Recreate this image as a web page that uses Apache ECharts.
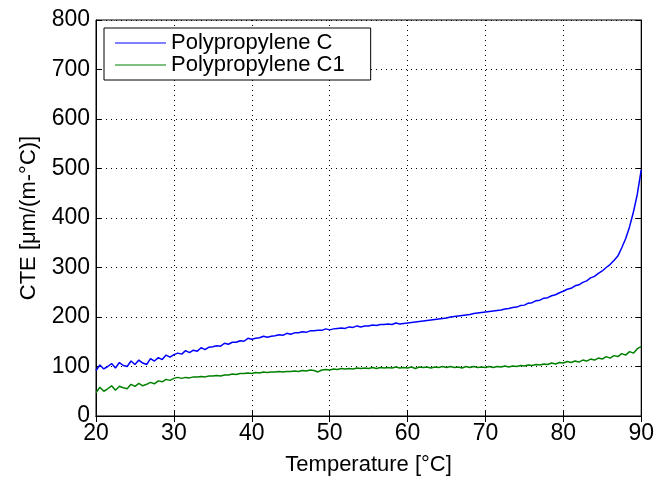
<!DOCTYPE html>
<html>
<head>
<meta charset="utf-8">
<script src="https://cdn.jsdelivr.net/npm/echarts@6/dist/echarts.min.js"></script>
<style>
    html, body { margin: 0; padding: 0; background: #fff; }
    #chart { width: 657px; height: 485px; }
</style>
</head>
<body>
<div id="chart"></div>
<script>
// 温度采样点 (°C)
const temps = [
    20, 20.5, 21, 21.5, 22, 22.5, 23, 23.5, 24, 24.5, 25, 25.5, 26, 26.5, 27, 27.5, 28, 28.5, 29, 29.5,
    30, 30.5, 31, 31.5, 32, 32.5, 33, 33.5, 34, 34.5, 35, 35.5, 36, 36.5, 37, 37.5, 38, 38.5, 39, 39.5,
    40, 40.5, 41, 41.5, 42, 42.5, 43, 43.5, 44, 44.5, 45, 45.5, 46, 46.5, 47, 47.5, 48, 48.5, 49, 49.5,
    50, 50.5, 51, 51.5, 52, 52.5, 53, 53.5, 54, 54.5, 55, 55.5, 56, 56.5, 57, 57.5, 58, 58.5, 59, 59.5,
    60, 60.5, 61, 61.5, 62, 62.5, 63, 63.5, 64, 64.5, 65, 65.5, 66, 66.5, 67, 67.5, 68, 68.5, 69, 69.5,
    70, 70.5, 71, 71.5, 72, 72.5, 73, 73.5, 74, 74.5, 75, 75.5, 76, 76.5, 77, 77.5, 78, 78.5, 79, 79.5,
    80, 80.5, 81, 81.5, 82, 82.5, 83, 83.5, 84, 84.5, 85, 85.5, 86, 86.5, 87, 87.5, 88, 88.5, 89, 89.5,
    90
]
// Polypropylene C
const cteC = [
    92, 103, 95, 100, 106, 97, 108, 102, 100, 111, 104, 113, 107, 104, 116, 111, 118, 114, 123, 119,
    124, 127, 125, 132, 128, 133, 131, 138, 134, 139, 140, 142, 141, 147, 145, 149, 149, 152, 151, 157,
    155, 157, 158, 161, 159, 161, 162, 164, 163, 167, 165, 168, 168, 170, 169, 172, 172, 173, 173, 176,
    174, 176, 177, 178, 177, 180, 179, 182, 180, 182, 182, 184, 183, 185, 185, 186, 185, 188, 186, 187,
    188, 189, 190, 191, 192, 193, 194, 195, 196, 197, 198, 200, 201, 202, 203, 204, 205, 207, 208, 209,
    210, 211, 212, 213, 214, 216, 217, 219, 220, 223, 224, 228, 229, 233, 234, 238, 239, 243, 245, 249,
    252, 256, 258, 263, 265, 270, 273, 279, 282, 288, 293, 300, 306, 314, 323, 340, 358, 382, 412, 448,
    497
]
// Polypropylene C1
const cteC1 = [
    47, 58, 50, 55, 61, 52, 60, 57, 55, 64, 60, 66, 61, 64, 68, 65, 71, 69, 74, 72,
    76, 78, 76, 78, 77, 79, 79, 80, 79, 81, 81, 82, 81, 83, 83, 85, 84, 86, 86, 87,
    86, 88, 87, 89, 88, 89, 89, 90, 89, 90, 90, 91, 90, 92, 91, 93, 92, 89, 93, 94,
    93, 95, 94, 96, 95, 96, 95, 97, 96, 97, 96, 98, 96, 98, 97, 98, 97, 99, 97, 98,
    97, 99, 96, 99, 98, 99, 97, 99, 98, 100, 98, 100, 98, 99, 97, 100, 98, 100, 98, 99,
    98, 100, 98, 100, 99, 101, 99, 101, 100, 102, 101, 103, 102, 104, 103, 105, 104, 107, 105, 108,
    107, 110, 108, 111, 109, 113, 111, 115, 113, 117, 115, 120, 117, 122, 120, 126, 123, 130, 127, 136,
    140
]

function pairs(xs, ys) {
    return xs.map((x, i) => [x, ys[i]])
}

(function () {
    let chart = echarts.init(document.getElementById('chart'))
    const font = 'Liberation Sans, Arial, sans-serif'
    const dotted = { color: '#000', width: 1, type: [1, 4] }
    let option = {
        animation: false,
        backgroundColor: '#fff',
        grid: {
            left: 96,
            right: 14,
            top: 20,
            bottom: 69,
            show: true,
            borderColor: '#000',
            borderWidth: 1
        },
        legend: {
            orient: 'vertical',
            left: 104,
            top: 28,
            padding: [4, 26, 4, 11],
            itemGap: 0,
            itemWidth: 51,
            itemHeight: 1,
            icon: 'rect',
            borderColor: '#000',
            borderWidth: 1,
            backgroundColor: '#fff',
            textStyle: { fontFamily: font, fontSize: 22, color: '#000', lineHeight: 22 },
            data: ['Polypropylene C', 'Polypropylene C1']
        },
        xAxis: [
            {
                type: 'value',
                min: 20,
                max: 90,
                interval: 10,
                name: 'Temperature [°C]',
                nameLocation: 'middle',
                nameGap: 38,
                nameTextStyle: { fontFamily: font, fontSize: 22, color: '#000' },
                axisLine: { lineStyle: { color: '#000' } },
                axisTick: { inside: true, length: 6, lineStyle: { color: '#000' } },
                axisLabel: { fontFamily: font, fontSize: 23, color: '#000', margin: 6 },
                splitLine: { show: true, lineStyle: dotted }
            },
            {
                type: 'value',
                position: 'top',
                min: 20,
                max: 90,
                interval: 10,
                axisLine: { lineStyle: { color: '#000' } },
                axisTick: { inside: true, length: 6, lineStyle: { color: '#000' } },
                axisLabel: { show: false },
                splitLine: { show: false }
            }
        ],
        yAxis: [
            {
                type: 'value',
                min: 0,
                max: 800,
                interval: 100,
                name: 'CTE [μm/(m-°C)]',
                nameLocation: 'middle',
                nameGap: 56,
                nameTextStyle: { fontFamily: font, fontSize: 22, color: '#000' },
                axisLine: { show: true, lineStyle: { color: '#000' } },
                axisTick: { show: true, inside: true, length: 6, lineStyle: { color: '#000' } },
                axisLabel: { fontFamily: font, fontSize: 23, color: '#000', margin: 6 },
                splitLine: { show: true, lineStyle: dotted }
            },
            {
                type: 'value',
                position: 'right',
                min: 0,
                max: 800,
                interval: 100,
                axisLine: { show: true, lineStyle: { color: '#000' } },
                axisTick: { show: true, inside: true, length: 6, lineStyle: { color: '#000' } },
                axisLabel: { show: false },
                splitLine: { show: false }
            }
        ],
        series: [
            {
                name: 'Polypropylene C',
                type: 'line',
                symbol: 'none',
                color: '#0000ff',
                lineStyle: { width: 1.5 },
                data: pairs(temps, cteC)
            },
            {
                name: 'Polypropylene C1',
                type: 'line',
                symbol: 'none',
                color: '#008000',
                lineStyle: { width: 1.5 },
                data: pairs(temps, cteC1)
            }
        ]
    }
    chart.setOption(option)
})()
</script>
</body>
</html>
